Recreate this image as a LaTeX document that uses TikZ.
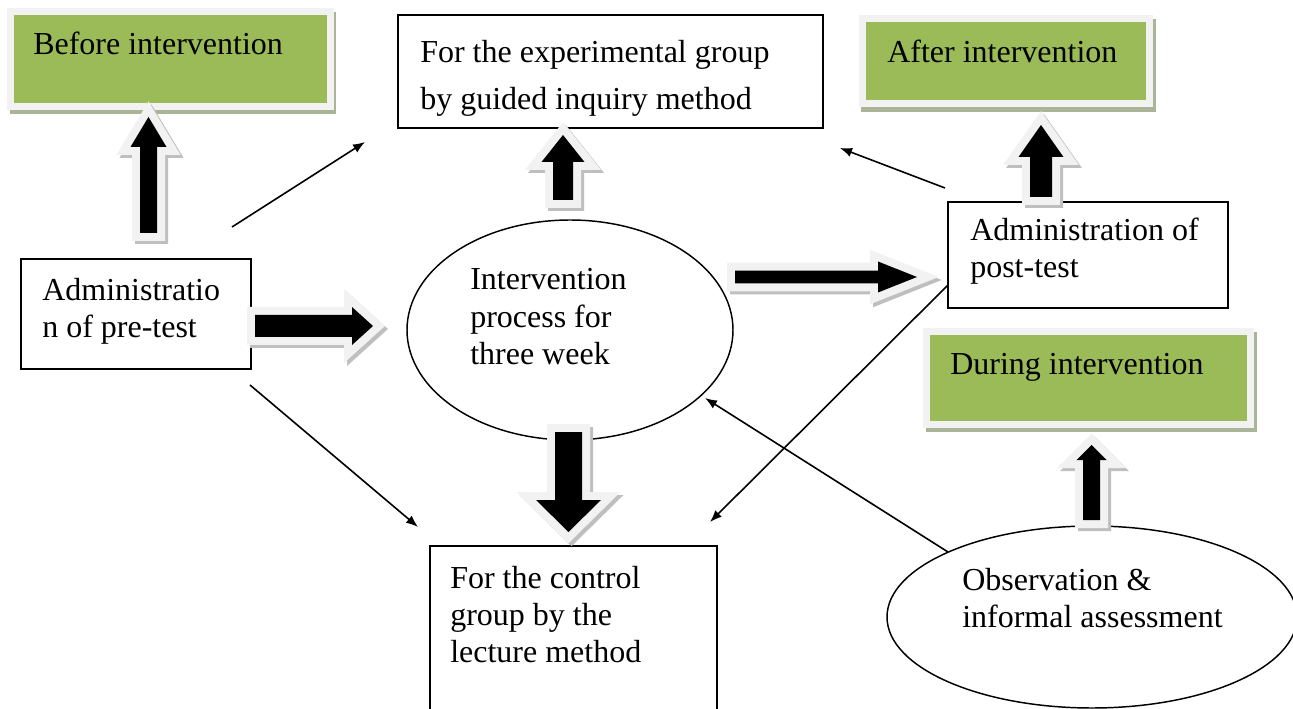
\documentclass[tikz,border=0pt]{standalone}
\usepackage{fontspec}
\setmainfont{Liberation Serif}
\usetikzlibrary{arrows.meta,shapes.geometric}
\definecolor{gfill}{HTML}{9BBB59}
\definecolor{gedge}{HTML}{F2F2F2}
\definecolor{gshade}{HTML}{AAB597}
\definecolor{ashade}{HTML}{BFBFBF}
\tikzset{
 bx/.style 2 args={minimum width=#1*0.75pt, minimum height=#2*0.75pt},
 txt/.style={inner sep=0pt, anchor=base west, align=left, font=\fontsize{24}{27.75}\selectfont},
 gbox/.style={rectangle, fill=gfill, draw=gedge, line width=5.25pt, inner sep=0pt},
 wbox/.style={rectangle, draw=black, line width=1.1pt, inner sep=0pt},
 oval/.style={ellipse, draw=black, line width=1.1pt, inner sep=0pt},
 thin/.style={line width=1.2pt, -{Latex[length=9pt,width=7pt]}},
 bshadow/.style={draw=ashade, fill=ashade, line width=12pt, line join=miter},
 bouter/.style={draw=gedge, fill=gedge, line width=12pt, line join=miter},
}
\newcommand\BArr[7]{%
 \begin{scope}[shift={(#1+3,#2+3)},rotate=#3]
  \path[bshadow] (0,-#5) -- ({#4-#7},-#5) -- ({#4-#7},-#6) -- (#4,0) -- ({#4-#7},#6) -- ({#4-#7},#5) -- (0,#5) -- cycle;
 \end{scope}
 \begin{scope}[shift={(#1,#2)},rotate=#3]
  \path[bouter] (0,-#5) -- ({#4-#7},-#5) -- ({#4-#7},-#6) -- (#4,0) -- ({#4-#7},#6) -- ({#4-#7},#5) -- (0,#5) -- cycle;
  \fill[black] (0,-#5) -- ({#4-#7},-#5) -- ({#4-#7},-#6) -- (#4,0) -- ({#4-#7},#6) -- ({#4-#7},#5) -- (0,#5) -- cycle;
 \end{scope}}
\begin{document}
\begin{tikzpicture}[x=0.75pt,y=-0.75pt]
\path[use as bounding box, clip] (0,0) rectangle (1293,709);
\fill[white] (0,0) rectangle (1293,709);
% green boxes
\fill[gshade] (10,12) rectangle (336,114);
\fill[gshade] (861,19) rectangle (1156,112);
\fill[gshade] (926,332) rectangle (1257,432);
\node[gbox, bx={320}{94.5}] (before) at (170,59) {};
\node[gbox, bx={286.5}{84.5}] (after) at (1005.75,61.25) {};
\node[gbox, bx={323.5}{92}] (during) at (1088.25,378) {};
\node[txt] (tbefore) at (33,55) {Before intervention};
\node[txt] (tafter) at (887,63) {After intervention};
\node[txt] (tduring) at (950,375) {During intervention};
% boxes and ovals
\node[wbox, bx={425}{113}] (exp) at (610.5,71.5) {};
\node[wbox, bx={230}{110}] (pre) at (136,314) {};
\node[wbox, bx={280}{106}] (post) at (1088,255) {};
\node[wbox, bx={287}{214}] (ctrl) at (573.5,653) {};
\node[oval, bx={326}{220}] (proc) at (570,330) {};
\node[oval, bx={410}{182}] (obs) at (1092,617) {};
% multi-line texts: anchor base = last line's baseline
\node[txt, font=\fontsize{24}{35.25}\selectfont] (texp) at (420,110) {For the experimental group\\by guided inquiry method};
\node[txt] (tpre) at (42,338) {Administratio\\n of pre-test};
\node[txt] (tpost) at (970,278) {Administration of\\post-test};
\node[txt] (tproc) at (470,364) {Intervention\\process for\\three week};
\node[txt] (tctrl) at (450,662) {For the control\\group by the\\lecture method};
\node[txt] (tobs) at (962,627) {Observation \&\\informal assessment};
% thin connectors
\coordinate (a1) at (232,227); \coordinate (a2) at (365,142);
\coordinate (b1) at (250,385); \coordinate (b2) at (418,527);
\coordinate (c1) at (945,188); \coordinate (c2) at (840,148);
\coordinate (d1) at (948,285); \coordinate (d2) at (710,522);
\coordinate (e1) at (948,552); \coordinate (e2) at (705,398);
\draw[thin] (a1) -- (a2);
\draw[thin] (b1) -- (b2);
\draw[thin] (c1) -- (c2);
\draw[thin] (d1) -- (d2);
\draw[thin] (e1) -- (e2);
% block arrows
\BArr{148.5}{233}{90}{116}{8.5}{18}{30}
\BArr{255}{326}{0}{118}{11}{19}{21}
\BArr{563}{200}{90}{65}{10}{21.5}{27}
\BArr{568.5}{432}{-90}{100}{13.5}{32.5}{32}
\BArr{735}{277}{0}{182}{6.3}{15.5}{39}
\BArr{1041}{197}{90}{72}{11}{22.5}{32}
\BArr{1091.5}{520}{90}{75}{8.5}{15}{15}
\end{tikzpicture}
\end{document}
